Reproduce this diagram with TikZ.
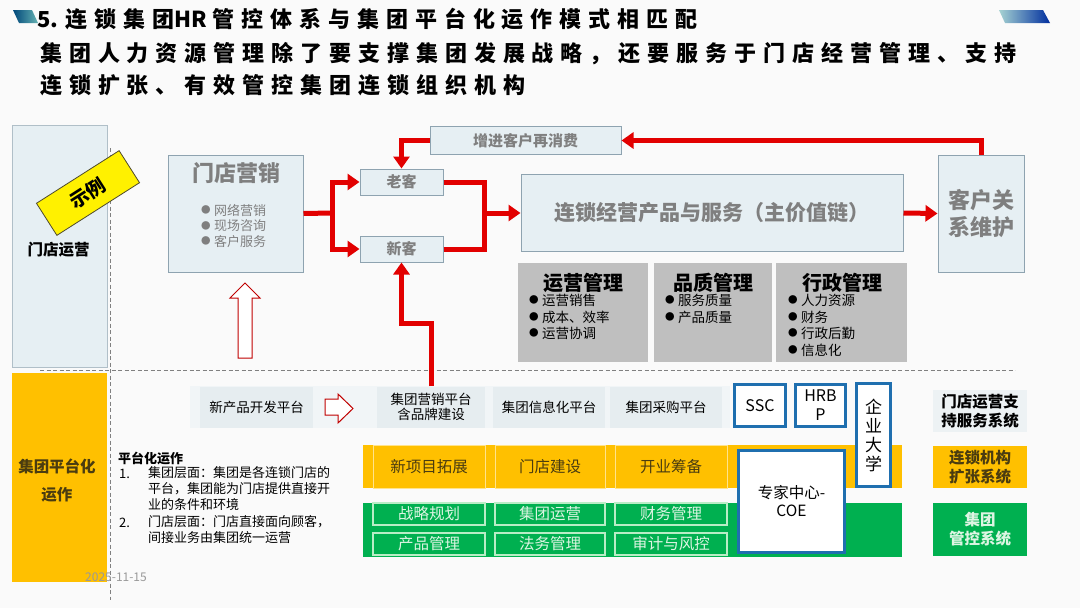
\documentclass[tikz,border=0pt]{standalone}
\usepackage{fontspec}
\setmainfont{Noto Sans CJK SC}
\newfontfamily\titlefont[LetterSpace=31.5]{Noto Sans CJK SC}
\newfontfamily\plainfont{Noto Sans CJK SC}
\usepackage{tikz}
\usetikzlibrary{arrows.meta}

\definecolor{flowred}{RGB}{226,0,0}
\definecolor{paleblue}{HTML}{E6EFF3}
\definecolor{paleedge}{HTML}{8EA3B0}
\definecolor{greytext}{HTML}{7F7F7F}
\definecolor{mgmtgrey}{HTML}{BFBFBF}
\definecolor{platfill}{HTML}{E6EDF0}
\definecolor{amber}{HTML}{FFC000}
\definecolor{amberink}{HTML}{4A3C10}
\definecolor{leafgreen}{HTML}{00B050}
\definecolor{leafline}{HTML}{B9EDC6}
\definecolor{leafink}{HTML}{DDF5E3}
\definecolor{coeblue}{HTML}{1F6FAF}
\definecolor{tagyellow}{HTML}{FFF100}

\newcommand\fsz[2]{\fontsize{#1}{#2}\selectfont}
\newcommand\dotmark{\raisebox{1.6pt}{\fontsize{9.5}{9.5}\selectfont ●}\hspace{3.5pt}}

\tikzset{
  pale/.style={draw=paleedge, fill=paleblue, line width=1pt, inner sep=0pt},
  paletext/.style={text=greytext, font=\bfseries\fsz{15}{18}},
  mgmt/.style={fill=mgmtgrey, inner sep=0pt},
  mgmttitle/.style={font=\bfseries\fsz{20}{24}},
  bullets/.style={anchor=north west, align=left, inner sep=0pt, font=\fsz{13.5}{16.5}},
  plat/.style={fill=platfill, inner sep=0pt, align=center, font=\fsz{13.5}{15.5}},
  ambercell/.style={draw=amber!45, line width=1pt, inner sep=0pt, text=amberink, font=\fsz{15.5}{18}},
  leafcell/.style={draw=leafline, line width=1.2pt, inner sep=0pt, text=leafink, font=\fsz{15.5}{18}},
  hrbox/.style={draw=coeblue, fill=white, line width=3.5pt, inner sep=0pt, align=center},
  syslabel/.style={inner sep=0pt, align=center, font=\bfseries\fsz{15.5}{19}, minimum width=94pt},
  flow/.style={draw=flowred, line width=5pt},
  flowarr/.style={flow, -{Triangle[length=12pt,width=16pt]}},
  hollow/.style={draw=flowred!85!black, fill=white, line width=1pt},
  sep/.style={draw=black!50, line width=0.9pt, dash pattern=on 4pt off 2.5pt},
  note/.style={anchor=west, inner sep=0pt, font=\fsz{13}{16}},
  headline/.style={anchor=west, inner sep=0pt, font=\titlefont\bfseries\fsz{22}{26}},
}

\begin{document}
\begin{tikzpicture}[x=1pt, y=-1pt]
  \useasboundingbox (0,0) rectangle (1080,608);
  \fill[black!2] (0,0) rectangle (1080,608);

  % Title bar
  \shade[left color=black!30!teal!80!blue, right color=teal!60] (13,10) -- (32,10) -- (38,23) -- (19,23) -- cycle;
  \shade[left color=teal!35, right color=blue!55!teal!80!black] (999,10) -- (1043,10) -- (1050,23) -- (1005,23) -- cycle;
  \node[headline] (title) at (37,19) {{\plainfont\bfseries 5.}\hspace{7pt}连锁集团{\plainfont\bfseries HR}\hspace{6pt}管控体系与集团平台化运作模式相匹配};
  \node[headline] (subone) at (40,54) {集团人力资源管理除了要支撑集团发展战略，还要服务于门店经营管理、支持};
  \node[headline] (subtwo) at (40,85) {连锁扩张、有效管控集团连锁组织机构};

  % Left panels
  \node[pale, draw=paleedge!70, minimum width=95pt, minimum height=242pt] (storeops) at (59.5,246) {};
  \node[font=\bfseries\fsz{15.5}{18}] (storeopslbl) at (58.5,250) {门店运营};
  \node[fill=amber, inner sep=0pt, minimum width=95pt, minimum height=209pt] (grouppanel) at (59.5,477.5) {};
  \node[align=center, text=amberink, font=\bfseries\fsz{15.5}{28}] (grouplbl) at (57,481) {集团平台化\\运作};

  % Separators
  \draw[sep] (110,148) -- (110,600);
  \draw[sep] (40,370) -- (1015,370);

  % Example tag
  \node[fill=tagyellow, draw=black!60!olive, line width=0.8pt, rotate=32.5, minimum width=98pt, minimum height=38pt, font=\bfseries\fsz{19}{22}] (demo) at (88,193) {示例};

  % Store marketing
  \node[pale, minimum width=135pt, minimum height=117pt] (mkt) at (235.5,213.5) {};
  \node[text=greytext, font=\bfseries\fsz{22}{26}] (mkttitle) at (236,173) {门店营销};
  \node[bullets, text=greytext, font=\fsz{13}{15.5}] (mktlist) at (201,204) {\dotmark 网络营销\\\dotmark 现场咨询\\\dotmark 客户服务};
  \draw[hollow] (238,358) -- (238,298) -- (230,298) -- (245,283) -- (260,298) -- (252,298) -- (252,358) -- cycle;

  % Customers and value chain
  \node[pale, paletext, minimum width=83pt, minimum height=26pt] (old) at (401.5,182) {老客};
  \node[pale, paletext, minimum width=83pt, minimum height=26pt] (new) at (401.5,249) {新客};
  \node[pale, paletext, minimum width=191pt, minimum height=28pt] (again) at (525.5,140.5) {增进客户再消费};
  \node[pale, text=greytext, font=\bfseries\fsz{21}{25}, minimum width=382pt, minimum height=77pt] (chain) at (712,213) {连锁经营产品与服务（主价值链）};
  \node[pale, align=center, text=greytext, font=\bfseries\fsz{22}{27}, minimum width=86pt, minimum height=117pt] (crm) at (981,213.5) {客户关\\系维护};

  \coordinate (split) at (332,213);
  \coordinate (merge) at (484,213);
  \coordinate (turn) at (431,323);
  \draw[flow] (mkt.east) -- (split);
  \draw[flowarr] (split) |- (old.west);
  \draw[flowarr] (split) |- (new.west);
  \draw[flow] (old.east) -| (merge);
  \draw[flow] (new.east) -| (merge);
  \draw[flowarr] (merge) -- (chain.west);
  \draw[flowarr] (chain.east) -- (crm.west);
  \draw[flowarr] (crm.north) |- (again.east);
  \draw[flowarr] (again.west) -| (old.north);

  % Management blocks
  \node[mgmt, minimum width=130pt, minimum height=99pt] (ops) at (583,312.5) {};
  \node[mgmt, minimum width=118pt, minimum height=99pt] (qual) at (713,312.5) {};
  \node[mgmt, minimum width=131pt, minimum height=99pt] (admin) at (841.5,312.5) {};
  \node[mgmttitle] (opstitle) at (583,283) {运营管理};
  \node[mgmttitle] (qualtitle) at (713,283) {品质管理};
  \node[mgmttitle] (admintitle) at (842,283) {行政管理};
  \node[bullets] (opslist) at (529,294) {\dotmark 运营销售\\\dotmark 成本、效率\\\dotmark 运营协调};
  \node[bullets] (quallist) at (665,294) {\dotmark 服务质量\\\dotmark 产品质量};
  \node[bullets] (adminlist) at (788,294) {\dotmark 人力资源\\\dotmark 财务\\\dotmark 行政后勤\\\dotmark 信息化};

  % Platform row
  \fill[platfill!55] (190,386) rectangle (730,428);
  \node[plat, minimum width=113pt, minimum height=41pt] (newprod) at (256.5,407) {新产品开发平台};
  \node[plat, minimum width=108pt, minimum height=41pt] (mktp) at (431,407) {集团营销平台\\含品牌建设};
  \node[plat, minimum width=112pt, minimum height=41pt] (info) at (549,407) {集团信息化平台};
  \node[plat, minimum width=112pt, minimum height=41pt] (purch) at (666,407) {集团采购平台};
  \draw[hollow] (325,399) -- (338,399) -- (338,394) -- (353,408.5) -- (338,423) -- (338,415) -- (325,415) -- cycle;
  \draw[flowarr] (mktp.north) -- (turn) -| (new.south);

  % Expansion and control rows
  \fill[amber] (363,445) rectangle (902,488);
  \node[ambercell, minimum width=112pt, minimum height=43pt] (expand) at (429,466.5) {新项目拓展};
  \node[ambercell, minimum width=110pt, minimum height=43pt] (build) at (550,466.5) {门店建设};
  \node[ambercell, minimum width=112pt, minimum height=43pt] (prep) at (671,466.5) {开业筹备};
  \fill[leafgreen] (363,503) rectangle (902,557);
  \node[leafcell, minimum width=112pt, minimum height=22pt] (strat) at (429,514) {战略规划};
  \node[leafcell, minimum width=110pt, minimum height=22pt] (grpops) at (550,514) {集团运营};
  \node[leafcell, minimum width=112pt, minimum height=22pt] (fin) at (671,514) {财务管理};
  \node[leafcell, minimum width=112pt, minimum height=22pt] (prodm) at (429,544) {产品管理};
  \node[leafcell, minimum width=110pt, minimum height=22pt] (legal) at (550,544) {法务管理};
  \node[leafcell, minimum width=112pt, minimum height=22pt] (audit) at (671,544) {审计与风控};

  % HR boxes
  \node[hrbox, font=\fsz{16}{19}, minimum width=51pt, minimum height=42pt] (ssc) at (760,405.5) {SSC};
  \node[hrbox, font=\fsz{16}{19}, minimum width=50pt, minimum height=42pt] (hrbp) at (820.5,405.5) {HRB\\P};
  \node[hrbox, font=\fsz{17}{19}, minimum width=34pt, minimum height=103pt] (univ) at (873.5,435) {企\\业\\大\\学};
  \node[hrbox, font=\fsz{15.5}{18}, minimum width=106pt, minimum height=102pt] (coe) at (791.5,501.5) {专家中心-\\COE};

  % System labels
  \node[syslabel, fill=platfill!70, minimum height=42pt] (support) at (980,411) {门店运营支\\持服务系统};
  \node[syslabel, fill=amber, text=amberink, minimum height=42pt] (expandsys) at (980,467) {连锁机构\\扩张系统};
  \node[syslabel, fill=leafgreen, text=leafink, minimum height=53pt] (ctrlsys) at (980,529.5) {集团\\管控系统};

  % Platform note
  \node[note, font=\bfseries\fsz{13}{16}] (platnote) at (118,458) {平台化运作};
  \node[note] (numone) at (119,474) {1.};
  \node[note, anchor=north west, align=left] (itemone) at (148,466) {集团层面：集团是各连锁门店的\\平台，集团能为门店提供直接开\\业的条件和环境};
  \node[note] (numtwo) at (119,523) {2.};
  \node[note, anchor=north west, align=left] (itemtwo) at (148,515) {门店层面：门店直接面向顾客，\\间接业务由集团统一运营};
  \node[text=black!40, inner sep=0pt, font=\fsz{12}{14}] (date) at (116,577) {2025-11-15};
\end{tikzpicture}
\end{document}
